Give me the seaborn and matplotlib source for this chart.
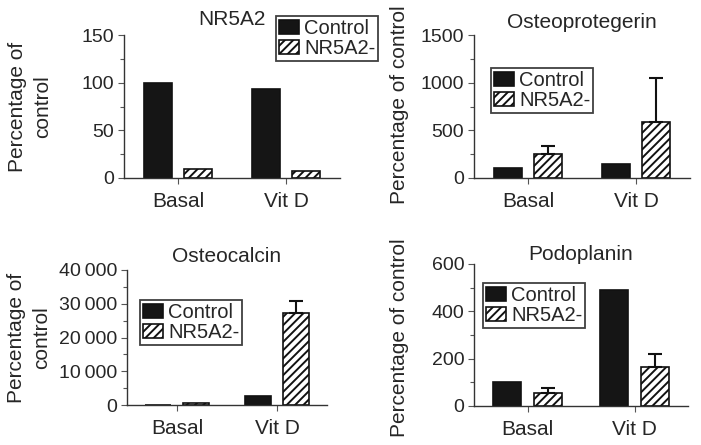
import matplotlib
matplotlib.use("Agg")
import matplotlib.pyplot as plt
import seaborn as sns
import pandas as pd
from matplotlib.ticker import MultipleLocator, FuncFormatter

sns.set_style("ticks")
plt.rcParams["font.family"] = ["Liberation Sans", "DejaVu Sans"]
plt.rcParams["hatch.linewidth"] = 1.4
plt.rcParams["hatch.color"] = "#222222"

conditions = ["Basal", "Vit D"]
groups = ["Control", "NR5A2-"]

# values (percentage of control)
nr5a2_ctrl = [100, 93]
nr5a2_kd = [9, 7.5]
nr5a2_kd_err = [0, 0]

opg_ctrl = [100, 150]
opg_kd = [255, 590]
opg_kd_err = [80, 460]

ocn_ctrl = [100, 2750]
ocn_kd = [500, 27200]
ocn_kd_err = [0, 3700]

pdpn_ctrl = [100, 490]
pdpn_kd = [53, 163]
pdpn_kd_err = [23, 57]

W, H = 701, 445
fig = plt.figure(figsize=(W / 100, H / 100), dpi=100)


def px_axes(left, top, right, bottom):
    return fig.add_axes([left / W, 1 - bottom / H, (right - left) / W, (bottom - top) / H])


def thin_sep(v, pos):
    return f"{int(v):,}".replace(",", "\u2009")


def panel(ax, ctrl, kd, kd_err, title, ylabel, ymax, major, title_pad,
          label_xy, leg_xy, fmt=None):
    df = pd.DataFrame({
        "condition": conditions * 2,
        "group": [groups[0]] * 2 + [groups[1]] * 2,
        "value": list(ctrl) + list(kd),
    })
    sns.barplot(data=df, x="condition", y="value", hue="group",
                order=conditions, hue_order=groups,
                palette={"Control": "#151515", "NR5A2-": "white"},
                edgecolor="#111111", linewidth=1.2, width=0.75, gap=0.3,
                errorbar=None, legend=False, ax=ax)
    kd_bars = list(ax.containers[1])
    for bar in kd_bars:
        bar.set_hatch("////")
    for bar, e in zip(kd_bars, kd_err):
        if e > 0:
            x = bar.get_x() + bar.get_width() / 2
            ax.errorbar(x, bar.get_height(), yerr=[[0], [e]], fmt="none",
                        ecolor="#111111", elinewidth=1.5, capsize=5, capthick=1.5)

    ax.set_xlim(-0.5, 1.5)
    ax.set_ylim(0, ymax)
    ax.yaxis.set_major_locator(MultipleLocator(major))
    ax.yaxis.set_minor_locator(MultipleLocator(major / 2))
    if fmt is not None:
        ax.yaxis.set_major_formatter(FuncFormatter(fmt))
    sns.despine(ax=ax)
    for s in ["left", "bottom"]:
        ax.spines[s].set_color("#333333")
        ax.spines[s].set_linewidth(1.0)
    ax.tick_params(axis="y", which="major", length=4, width=0.8, color="#555555",
                   labelsize=14, pad=3)
    ax.tick_params(axis="y", which="minor", length=3, width=0.8, color="#555555")
    ax.tick_params(axis="x", length=4, width=0.8, color="#555555",
                   labelsize=15, pad=6)
    ax.set_xlabel("")
    ax.set_title(title, fontsize=15, pad=title_pad)
    ax.set_ylabel(ylabel, fontsize=15, linespacing=1.4, va="center", ha="center")
    ax.yaxis.set_label_coords(*label_xy)

    handles = [ax.containers[0][0], kd_bars[0]]
    leg = ax.legend(handles, groups, loc="upper left",
                    bbox_to_anchor=(leg_xy[0] / W, 1 - leg_xy[1] / H),
                    bbox_transform=fig.transFigure, fontsize=14.5, frameon=True,
                    fancybox=False, borderpad=0.15, labelspacing=0.05,
                    handlelength=1.0, handleheight=0.7, handletextpad=0.25,
                    borderaxespad=0)
    leg.get_frame().set_edgecolor("#111111")
    leg.get_frame().set_linewidth(1.3)


ax1 = px_axes(124, 35, 340, 178)
panel(ax1, nr5a2_ctrl, nr5a2_kd, nr5a2_kd_err, "NR5A2", "Percentage of\ncontrol",
      150, 50, 7, (-0.433, 0.5), (276, 16))

ax2 = px_axes(474, 35, 690, 178)
panel(ax2, opg_ctrl, opg_kd, opg_kd_err, "Osteoprotegerin", "Percentage of control",
      1500, 500, 5, (-0.345, 0.51), (491, 68))

ax3 = px_axes(127, 270, 327, 405)
panel(ax3, ocn_ctrl, ocn_kd, ocn_kd_err, "Osteocalcin", "Percentage of\ncontrol",
      40000, 10000, 6, (-0.49, 0.5), (140, 300), fmt=thin_sep)

ax4 = px_axes(474, 264, 688, 406)
panel(ax4, pdpn_ctrl, pdpn_kd, pdpn_kd_err, "Podoplanin", "Percentage of control",
      600, 200, 1, (-0.348, 0.48), (483, 283))

fig.savefig("out.png", dpi=100)
plt.close(fig)
